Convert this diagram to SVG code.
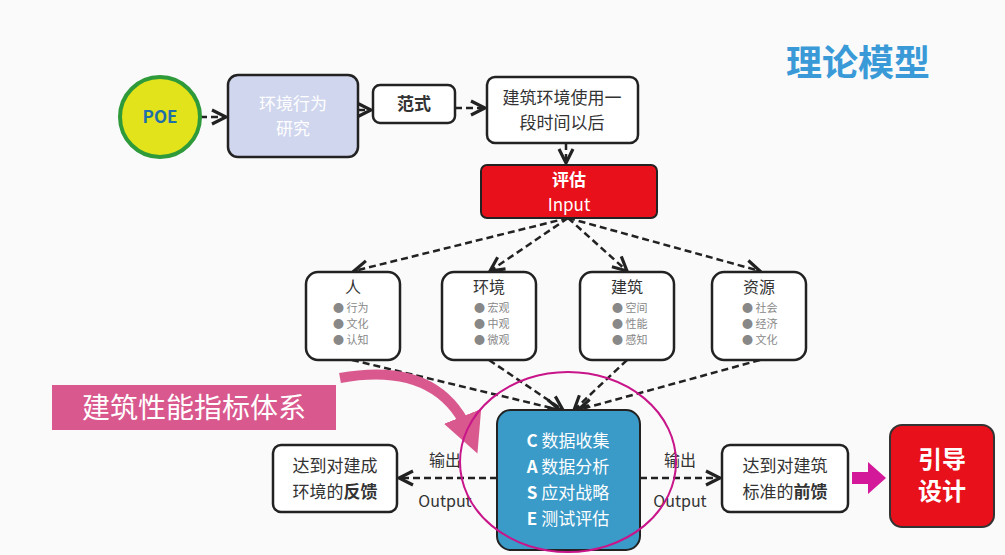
<svg xmlns="http://www.w3.org/2000/svg" width="1005" height="555" viewBox="0 0 1005 555">
<defs>
<marker id="ah" viewBox="0 0 10 10" refX="9" refY="5" markerWidth="7" markerHeight="7" orient="auto"><path d="M1,1 L9,5 L1,9" fill="none" stroke="#222" stroke-width="1.8"/></marker>
<marker id="pk" viewBox="0 0 10 10" refX="5" refY="5" markerWidth="4" markerHeight="4" orient="auto"><path d="M0,0 L10,5 L0,10 Z" fill="#d9588e"/></marker>
</defs>
<style>
text{font-family:"Noto Sans CJK SC","Liberation Sans",sans-serif}
.box{fill:#fff;stroke:#222;stroke-width:2.5}
.c{stroke:#222;stroke-width:2.5;stroke-dasharray:7,4;fill:none;marker-end:url(#ah)}
.t{font-size:17px;fill:#333;text-anchor:middle}
.h{font-size:16px;fill:#333;text-anchor:middle}
.b{font-size:11px;fill:#888}
</style>
<rect width="1005" height="555" fill="#fafafa"/>
<text x="858" y="76" font-size="36" font-weight="bold" fill="#3a9ad8" text-anchor="middle">理论模型</text>
<g id="connectors">
<path class="c" d="M200,117 H226"/>
<path class="c" d="M358,110 H371"/>
<path class="c" d="M455,108 H485"/>
<path class="c" d="M566,143 V163"/>
<path class="c" d="M568,218 L354,271"/>
<path class="c" d="M568,218 L490,271"/>
<path class="c" d="M568,218 L627,271"/>
<path class="c" d="M568,218 L760,271"/>
<path class="c" d="M352,360 L560,410"/>
<path class="c" d="M489,360 L563,410"/>
<path class="c" d="M627,360 L574,410"/>
<path class="c" d="M760,360 L578,410"/>
<path class="c" d="M497,478 H399"/>
<path class="c" d="M640,478 H720"/>
<path d="M852,478 H872" stroke="#d4189a" stroke-width="12" fill="none"/>
<path d="M868,462 L886,478 L868,494 Z" fill="#d4189a"/>
<text x="445" y="466" class="h" font-size="14">输出</text>
<text x="445" y="507" class="h" font-size="14">Output</text>
<text x="680" y="466" class="h" font-size="14">输出</text>
<text x="680" y="507" class="h" font-size="14">Output</text>
</g>
<g id="poe"><circle cx="160" cy="117" r="40" fill="#e2e31a" stroke="#2e9a3a" stroke-width="4"/><text x="160" y="123" font-size="17" font-weight="bold" fill="#1f6fa8" text-anchor="middle">POE</text></g>
<g id="hjxw"><rect x="228" y="75" width="130" height="82" rx="10" fill="#d0d6ee" stroke="#222" stroke-width="2.5"/><text x="293" y="110" class="t" style="fill:#fff">环境行为</text><text x="293" y="135" class="t" style="fill:#fff">研究</text></g>
<g id="fs"><rect class="box" x="373" y="85" width="82" height="38" rx="7"/><text x="414" y="110" class="t" font-weight="bold">范式</text></g>
<g id="jzhj"><rect class="box" x="487" y="77" width="151" height="66" rx="8"/><text x="562" y="104" class="t">建筑环境使用一</text><text x="562" y="129" class="t">段时间以后</text></g>
<g id="pg"><rect x="481" y="165" width="176" height="53" rx="6" fill="#e8101a" stroke="#222" stroke-width="2"/><text x="569" y="186" font-size="15" class="t" font-weight="bold" style="fill:#fff">评估</text><text x="569" y="211" font-size="16" class="t" style="fill:#fff">Input</text></g>
<g id="ren"><rect class="box" x="306" y="272" width="94" height="88" rx="12"/><text x="353" y="293" class="h">人</text><text x="333" y="312" class="b">● 行为</text><text x="333" y="328" class="b">● 文化</text><text x="333" y="344" class="b">● 认知</text></g>
<g id="hj"><rect class="box" x="442" y="272" width="94" height="88" rx="12"/><text x="489" y="293" class="h">环境</text><text x="474" y="312" class="b">● 宏观</text><text x="474" y="328" class="b">● 中观</text><text x="474" y="344" class="b">● 微观</text></g>
<g id="jz"><rect class="box" x="580" y="272" width="94" height="88" rx="12"/><text x="627" y="293" class="h">建筑</text><text x="612" y="312" class="b">● 空间</text><text x="612" y="328" class="b">● 性能</text><text x="612" y="344" class="b">● 感知</text></g>
<g id="zy"><rect class="box" x="712" y="272" width="94" height="88" rx="12"/><text x="759" y="293" class="h">资源</text><text x="742" y="312" class="b">● 社会</text><text x="742" y="328" class="b">● 经济</text><text x="742" y="344" class="b">● 文化</text></g>
<g id="zb"><rect x="52" y="385" width="284" height="45" fill="#d9588e"/><text x="194" y="418" font-size="28" fill="#fff" text-anchor="middle">建筑性能指标体系</text>
<path d="M340,378 Q440,360 470,435" stroke="#d9588e" stroke-width="10" fill="none" marker-end="url(#pk)"/></g>
<g id="case"><rect x="497" y="410" width="143" height="140" rx="14" fill="#3a9ac8" stroke="#222" stroke-width="2"/>
<text x="568" y="447" font-size="17" fill="#fff" text-anchor="middle"><tspan font-weight="bold">C</tspan> 数据收集</text>
<text x="568" y="473" font-size="17" fill="#fff" text-anchor="middle"><tspan font-weight="bold">A</tspan> 数据分析</text>
<text x="568" y="499" font-size="17" fill="#fff" text-anchor="middle"><tspan font-weight="bold">S</tspan> 应对战略</text>
<text x="568" y="525" font-size="17" fill="#fff" text-anchor="middle"><tspan font-weight="bold">E</tspan> 测试评估</text></g>
<ellipse cx="568" cy="462" rx="108" ry="90" fill="none" stroke="#c8158a" stroke-width="2"/>
<g id="fk"><rect class="box" x="273" y="445" width="124" height="67" rx="8"/><text x="335" y="472" class="t">达到对建成</text><text x="335" y="498" class="t">环境的<tspan font-weight="bold">反馈</tspan></text></g>
<g id="qk"><rect class="box" x="722" y="445" width="126" height="67" rx="8"/><text x="785" y="472" class="t">达到对建筑</text><text x="785" y="498" class="t">标准的<tspan font-weight="bold">前馈</tspan></text></g>
<g id="yd"><rect x="890" y="425" width="104" height="102" rx="12" fill="#e8101a" stroke="#333" stroke-width="2"/><text x="942" y="468" font-size="24" font-weight="bold" fill="#fff" text-anchor="middle">引导</text><text x="942" y="500" font-size="24" font-weight="bold" fill="#fff" text-anchor="middle">设计</text></g>
</svg>
